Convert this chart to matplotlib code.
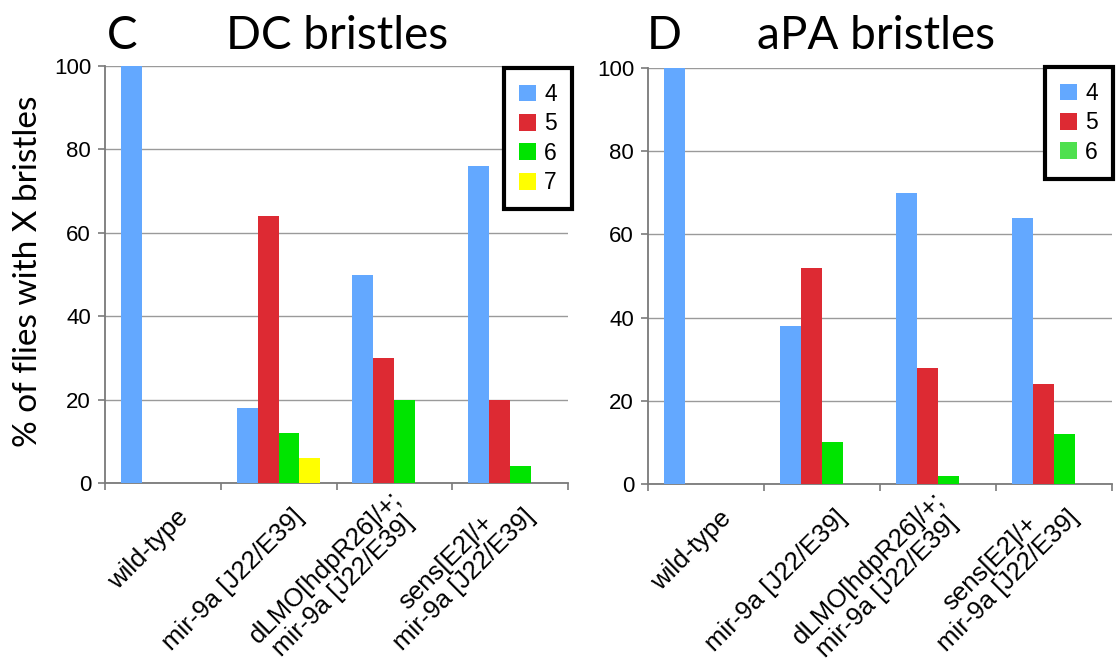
import matplotlib
matplotlib.use("Agg")
import matplotlib.pyplot as plt
import matplotlib.transforms as mtransforms
import numpy as np

groups = ["wild-type", "mir-9a [J22/E39]",
          "dLMO[hdpR26]/+;\nmir-9a [J22/E39]",
          "sens[E2]/+\nmir-9a [J22/E39]"]

# DC bristles (panel C): % of flies with 4/5/6/7 bristles
dc_4 = [100, 18, 50, 76]
dc_5 = [0, 64, 30, 20]
dc_6 = [0, 12, 20, 4]
dc_7 = [0, 6, 0, 0]

# aPA bristles (panel D): % of flies with 4/5/6 bristles
apa_4 = [100, 38, 70, 64]
apa_5 = [0, 52, 28, 24]
apa_6 = [0, 10, 2, 12]

BLUE = "#63a8ff"
RED = "#dd2a33"
GREEN = "#00e400"
YELLOW = "#ffff00"

W, H = 1118, 671
fig = plt.figure(figsize=(W / 100, H / 100), dpi=100)

TICK_FONT = "Liberation Sans"
HEAD_FONT = "Lato"


def px(x0, y0, x1, y1):
    # pixel box (top-left origin) -> figure fraction rect
    return [x0 / W, 1 - y1 / H, (x1 - x0) / W, (y1 - y0) / H]


def draw_panel(ax, series, colors, labels):
    bw = 0.181
    start = 0.137
    x = np.arange(len(groups))
    for j, (vals, col) in enumerate(zip(series, colors)):
        ax.bar(x + start + j * bw, vals, width=bw, align="edge", color=col,
               linewidth=0, label=labels[j], zorder=3)

    ax.set_xlim(0, 4)
    ax.set_ylim(0, 100)
    ax.set_yticks(range(0, 101, 20))
    ax.yaxis.grid(True, color="#9a9a9a", linewidth=1.0, zorder=0)
    for s in ["top", "right"]:
        ax.spines[s].set_visible(False)
    for s in ["left", "bottom"]:
        ax.spines[s].set_color("#7a7a7a")
        ax.spines[s].set_linewidth(1.3)
    ax.set_xticks([0, 1, 2, 3, 4])
    ax.set_xticklabels([])
    ax.tick_params(axis="x", length=5, width=1.2, color="#7a7a7a", direction="out")
    ax.tick_params(axis="y", length=5, width=1.2, color="#7a7a7a", pad=5,
                   labelsize=16)
    for lbl in ax.get_yticklabels():
        lbl.set_fontfamily(TICK_FONT)

    # rotated category labels, anchored at their bottom-right corner (Excel style)
    off = mtransforms.offset_copy(ax.get_xaxis_transform(), fig=fig,
                                  x=21.5, y=-28, units="points")
    for i, g in enumerate(groups):
        ax.text(i + 0.5, 0, g, transform=off, rotation=45, rotation_mode="anchor",
                ha="right", va="bottom", multialignment="center",
                fontsize=18.5, fontfamily=TICK_FONT, linespacing=1.1)


def add_legend(ax, right_px, top_px):
    leg = ax.legend(loc="upper right", bbox_to_anchor=(right_px / W, 1 - top_px / H),
                    bbox_transform=fig.transFigure, fancybox=False, framealpha=1,
                    edgecolor="black", borderaxespad=0, borderpad=0.65,
                    handlelength=0.75, handleheight=0.75, handletextpad=0.35,
                    labelspacing=0.28, prop={"family": TICK_FONT, "size": 16.5})
    leg.get_frame().set_linewidth(3)
    return leg


ax_c = fig.add_axes(px(105, 66, 568, 483))
draw_panel(ax_c, [dc_4, dc_5, dc_6, dc_7], [BLUE, RED, GREEN, YELLOW],
           ["4", "5", "6", "7"])
add_legend(ax_c, 572, 68)

ax_d = fig.add_axes(px(648, 68, 1112, 484))
draw_panel(ax_d, [apa_4, apa_5, apa_6], [BLUE, RED, GREEN], ["4", "5", "6"])
leg_d = add_legend(ax_d, 1113, 67)
leg_d.legend_handles[2].set_facecolor("#4ee04e")

# panel letters and titles
fig.text(107 / W, 1 - 49 / H, "C", fontsize=33, fontfamily=HEAD_FONT, va="baseline")
fig.text(337 / W, 1 - 49 / H, "DC bristles", fontsize=33, fontfamily=HEAD_FONT,
         ha="center", va="baseline")
fig.text(647 / W, 1 - 49 / H, "D", fontsize=33, fontfamily=HEAD_FONT, va="baseline")
fig.text(876 / W, 1 - 49 / H, "aPA bristles", fontsize=33, fontfamily=HEAD_FONT,
         ha="center", va="baseline")

fig.text(28 / W, 1 - 271 / H, "% of flies with X bristles", rotation=90,
         ha="center", va="center", fontsize=24, fontfamily=HEAD_FONT)

fig.savefig("out.png", dpi=100)
